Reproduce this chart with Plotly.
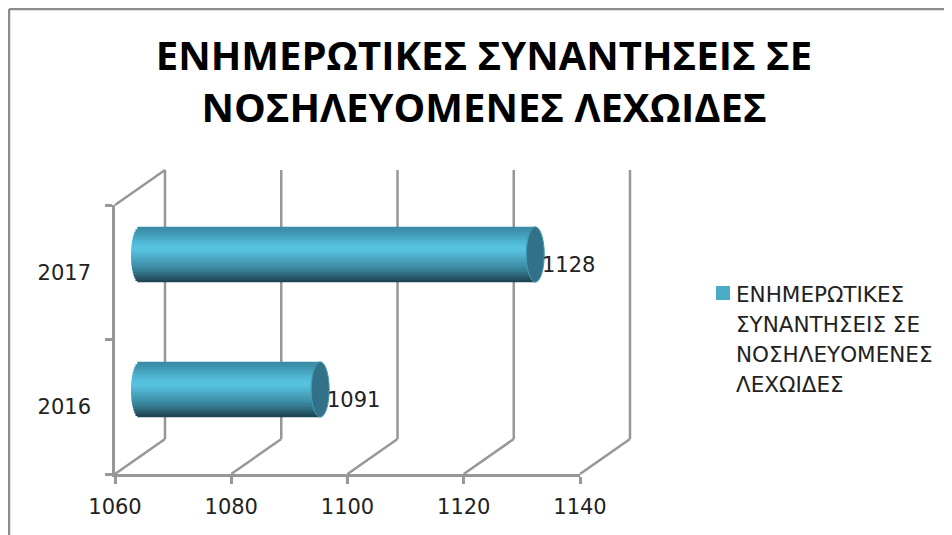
import numpy as np
import plotly.graph_objects as go

years = ["2016", "2017"]
counts = [1091, 1128]
x_ticks = [1060, 1080, 1100, 1120, 1140]
x_range = [1060, 1140]
legend_lines = ["ΕΝΗΜΕΡΩΤΙΚΕΣ", "ΣΥΝΑΝΤΗΣΕΙΣ ΣΕ", "ΝΟΣΗΛΕΥΟΜΕΝΕΣ", "ΛΕΧΩΙΔΕΣ"]
title_text = "ΕΝΗΜΕΡΩΤΙΚΕΣ ΣΥΝΑΝΤΗΣΕΙΣ ΣΕ<br>ΝΟΣΗΛΕΥΟΜΕΝΕΣ ΛΕΧΩΙΔΕΣ"

# cylinder shading, top to bottom
shades = ["#3a8ba5", "#3d92ad", "#4099b4", "#44a1bc", "#48a9c4", "#4db2cd", "#51b9d6",
          "#55bfdd", "#57c2e0", "#55bfdd", "#51b8d6", "#4eb0cd", "#4aa8c3", "#46a0ba",
          "#4298b1", "#3e8fa8", "#3a869e", "#367c93", "#317084", "#2b6172", "#245262", "#1f4653"]

# the page body has an 8px margin, so window pixels are converted with PAGE
PAGE = 8
W, H = 952 - PAGE, 535 - PAGE
GREY = "#979797"
TEXT = "#222222"
FONT = "DejaVu Sans"
LINE_W = 2.5
CAP_RX = 9  # px, half width of the cylinder ends
FRONT_X = (115, 580)
FRONT_Y = (205, 474)
BACK_X = (165, 630)
BACK_Y = (170, 439)
BAR_X0 = 140  # window x of the axis minimum in the bars' plane
BAR_Y = (187, 457)
PX_PER_UNIT = (FRONT_X[1] - FRONT_X[0]) / (x_range[1] - x_range[0])


def px(a):
    return (a - PAGE) / W


def py(b):
    return 1 - (b - PAGE) / H


def paper_x(value, box):
    return px(box[0] + (value - x_range[0]) * PX_PER_UNIT)


def line(x0, y0, x1, y1, colour=GREY):
    return dict(type="line", xref="paper", yref="paper", x0=x0, x1=x1, y0=y0, y1=y1,
                line=dict(color=colour, width=LINE_W), layer="below")


fig = go.Figure()

# invisible trace so the front axes exist
fig.add_trace(go.Scatter(x=counts, y=years, mode="none", showlegend=False, hoverinfo="skip"))

cap_units = CAP_RX / PX_PER_UNIT
bar_h = 0.41
strip = bar_h / len(shades)
for i, colour in enumerate(shades):
    t = -1 + 2 * (i + 0.5) / len(shades)
    base = x_range[0] - cap_units * np.sqrt(1 - t ** 2)
    overlap = 0 if i == len(shades) - 1 else strip * 0.5
    fig.add_trace(go.Bar(
        y=years, x=[c - base for c in counts], base=base, orientation="h",
        width=strip + overlap, offset=bar_h / 2 - strip * (i + 1) - overlap,
        marker=dict(color=colour, line=dict(width=0)),
        xaxis="x2", yaxis="y2", showlegend=False, hoverinfo="skip",
    ))

# chart border, top and left only
shapes = [line(px(9), py(9), 1, py(9), "#8c8c8c"), line(px(9), 0, px(9), py(9), "#8c8c8c")]

# cap of each cylinder
for idx, c in enumerate(counts):
    shapes.append(dict(type="circle", xref="x2", yref="y2", xsizemode="pixel", xanchor=c,
                       x0=-CAP_RX, x1=CAP_RX, y0=idx - bar_h / 2, y1=idx + bar_h / 2,
                       fillcolor="#327188", line=dict(color="#3f9db8", width=1), layer="above"))

# back wall gridlines and floor diagonals
for tick in x_ticks:
    shapes.append(line(paper_x(tick, BACK_X), py(BACK_Y[1]), paper_x(tick, BACK_X), py(BACK_Y[0])))
    shapes.append(line(paper_x(tick, FRONT_X), py(FRONT_Y[1]), paper_x(tick, BACK_X), py(BACK_Y[1])))
shapes.append(line(paper_x(x_range[0], FRONT_X), py(FRONT_Y[0]), paper_x(x_range[0], BACK_X), py(BACK_Y[0])))

# legend swatch
shapes.append(dict(type="rect", xref="paper", yref="paper", x0=px(716), x1=px(730),
                   y0=py(300), y1=py(286), fillcolor="#4bacc6", line=dict(width=0)))

# category axis: y goes by index, "2016" would be read as a position
annotations = [dict(x=c, y=idx, xref="x2", yref="y2", text=str(c), showarrow=False,
                    xanchor="left", xshift=5, yshift=-10,
                    font=dict(family=FONT, size=21, color=TEXT))
               for idx, c in enumerate(counts)]

for n, text in enumerate(legend_lines):
    annotations.append(dict(x=px(737), y=py(294 + 30.3 * n), xref="paper", yref="paper", text=text,
                            showarrow=False, xanchor="left", yanchor="middle", xshift=-3,
                            font=dict(family=FONT, size=21.5, color=TEXT)))

fig.update_layout(
    width=W, height=H,
    margin=dict(l=0, r=0, t=0, b=0, autoexpand=False),
    paper_bgcolor="white", plot_bgcolor="rgba(0,0,0,0)",
    barmode="overlay",
    title=dict(text=title_text, x=px(484), xanchor="center", y=1 - 62 / H, yanchor="top",
               font=dict(family="Open Sans", size=40, color="black", weight="bold")),
    xaxis=dict(domain=[px(FRONT_X[0]), px(FRONT_X[1])], range=x_range, tickvals=x_ticks, showgrid=False,
               zeroline=False, showline=True, linecolor=GREY, linewidth=LINE_W, ticks="outside", ticklen=7,
               tickwidth=LINE_W, tickcolor=GREY, ticklabelstandoff=5,
               tickfont=dict(family=FONT, size=21, color=TEXT), anchor="y"),
    yaxis=dict(domain=[py(FRONT_Y[1]), py(FRONT_Y[0])], type="category", categoryorder="array",
               categoryarray=years, range=[-0.5, 1.5], showgrid=False, zeroline=False, showline=True,
               linecolor=GREY, linewidth=LINE_W, ticks="outside", ticklen=7, tickwidth=LINE_W, tickcolor=GREY,
               tickson="boundaries", ticklabelstandoff=17,
               tickfont=dict(family=FONT, size=21, color=TEXT), anchor="x"),
    xaxis2=dict(domain=[px(BAR_X0 - CAP_RX), px(BAR_X0 + FRONT_X[1] - FRONT_X[0])],
                range=[x_range[0] - cap_units, x_range[1]], visible=False, anchor="y2"),
    yaxis2=dict(domain=[py(BAR_Y[1]), py(BAR_Y[0])], type="category", categoryorder="array",
                categoryarray=years, range=[-0.5, 1.5], visible=False, anchor="x2"),
    showlegend=False,
    shapes=shapes,
    annotations=annotations,
)

fig.write_html("out.html")
